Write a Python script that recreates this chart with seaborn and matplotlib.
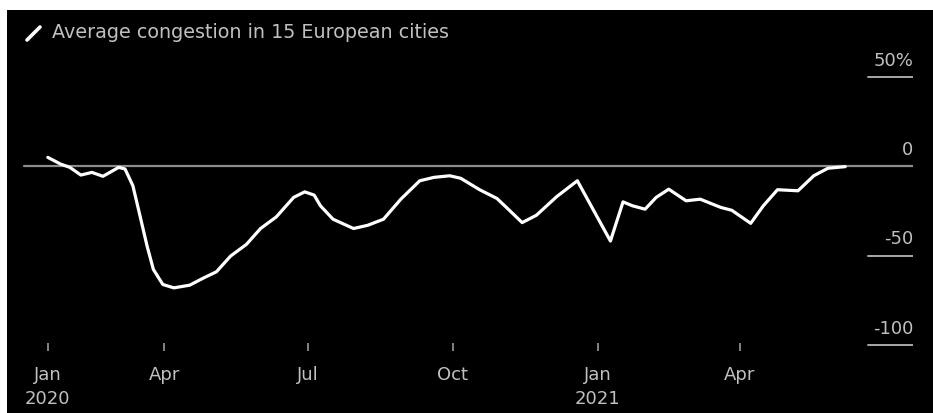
import pandas as pd
import matplotlib.pyplot as plt
from matplotlib.lines import Line2D
from matplotlib.patches import Rectangle
import seaborn as sns

# values (percent change in congestion)
dates = ['2020-01-18', '2020-01-26', '2020-02-01', '2020-02-08', '2020-02-15',
         '2020-02-22', '2020-03-03', '2020-03-07', '2020-03-12', '2020-03-16',
         '2020-03-21', '2020-03-25', '2020-03-31', '2020-04-07', '2020-04-17',
         '2020-04-26', '2020-05-04', '2020-05-13', '2020-05-23', '2020-06-01',
         '2020-06-11', '2020-06-22', '2020-06-29', '2020-07-05', '2020-07-09',
         '2020-07-17', '2020-07-30', '2020-08-08', '2020-08-18', '2020-08-29',
         '2020-09-10', '2020-09-19', '2020-09-29', '2020-10-06', '2020-10-18',
         '2020-10-29', '2020-11-04', '2020-11-14', '2020-11-23', '2020-12-06',
         '2020-12-19', '2021-01-09', '2021-01-17', '2021-01-23', '2021-01-31',
         '2021-02-07', '2021-02-15', '2021-02-26', '2021-03-07', '2021-03-20',
         '2021-03-27', '2021-04-08', '2021-04-16', '2021-04-25', '2021-05-08',
         '2021-05-18', '2021-05-27', '2021-06-07']
congestion = [5, 1.3, -0.6, -4.9, -3.4,
              -5.6, -0.6, -1.5, -10.9, -25.8,
              -44.6, -57.7, -66.1, -68, -66.5,
              -62.4, -59, -50.2, -43.7, -34.8,
              -28.3, -17.4, -14.3, -16.1, -22.1,
              -29.6, -34.8, -33, -29.6, -18.4,
              -8.1, -6.2, -5.3, -6.7, -13.1,
              -18, -23, -31.5, -27.4, -16.9,
              -8.1, -41.8, -19.9, -22.1, -24,
              -17.4, -12.8, -19.3, -18.4, -23,
              -24.6, -31.9, -22.1, -13.1, -13.7,
              -5.3, -1.1, -0.2]

x_tick_dates = ['2020-01-18', '2020-04-01', '2020-07-01', '2020-10-01',
                '2021-01-01', '2021-04-01']
x_tick_labels = ['Jan\n2020', 'Apr', 'Jul', 'Oct', 'Jan\n2021', 'Apr']
y_ticks = [50, 0, -50, -100]
y_tick_labels = ['50%', '0', '-50', '-100']

df = pd.DataFrame({'date': pd.to_datetime(dates), 'congestion': congestion})

sns.set_style('dark')
plt.rcParams['font.family'] = ['DejaVu Sans']

text_color = '#c0c0c0'
grid_color = '#8c8c8c'

fig = plt.figure(figsize=(9.33, 4.14), dpi=100, facecolor='white')
# black panel with a thin white margin at top and left
fig.add_artist(Rectangle((7 / 933, 0), 1, 1 - 11 / 414, transform=fig.transFigure,
                         facecolor='black', edgecolor='none', zorder=-10))

ax = fig.add_axes([0.0225, 0.1498, 0.9561, 0.7415])
ax.set_facecolor('none')

sns.lineplot(data=df, x='date', y='congestion', color='white', linewidth=2.3, ax=ax,
             zorder=3, solid_joinstyle='round', solid_capstyle='round')

ax.set_xlim(pd.Timestamp('2020-01-01'), pd.Timestamp('2021-07-20'))
ax.set_ylim(-103.3, 68.4)

# zero line across the chart, short segments for other levels
ax.axhline(0, color=grid_color, linewidth=1.6, xmin=0.003, xmax=1, zorder=2)
for val, lab in zip(y_ticks, y_tick_labels):
    if val != 0:
        ax.axhline(val, color='#a8a8a8', linewidth=1.4, xmin=0.9496, xmax=1)
    ax.annotate(lab, xy=(1, val), xycoords=ax.get_yaxis_transform(),
                xytext=(0, 6), textcoords='offset points',
                ha='right', va='bottom', color=text_color, fontsize=13)

ax.set_xticks(pd.to_datetime(x_tick_dates))
ax.set_xticklabels(x_tick_labels, linespacing=1.45)
ax.set_yticks([])
ax.tick_params(axis='x', bottom=True, direction='in', length=6, width=1.2,
               color='#9a9a9a', pad=10, labelcolor=text_color, labelsize=13)
ax.set_xlabel('')
ax.set_ylabel('')
ax.grid(False)
for sp in ax.spines.values():
    sp.set_visible(False)

# title with line-icon
fig.add_artist(Line2D([27 / 933, 40 / 933], [1 - 41 / 414, 1 - 28 / 414],
                      transform=fig.transFigure, color='white', linewidth=2.6,
                      solid_capstyle='round'))
fig.text(52 / 933, 1 - 33 / 414, 'Average congestion in 15 European cities',
         color=text_color, fontsize=13.8, va='center', ha='left')

fig.savefig('out.png', dpi=100, facecolor=fig.get_facecolor())
